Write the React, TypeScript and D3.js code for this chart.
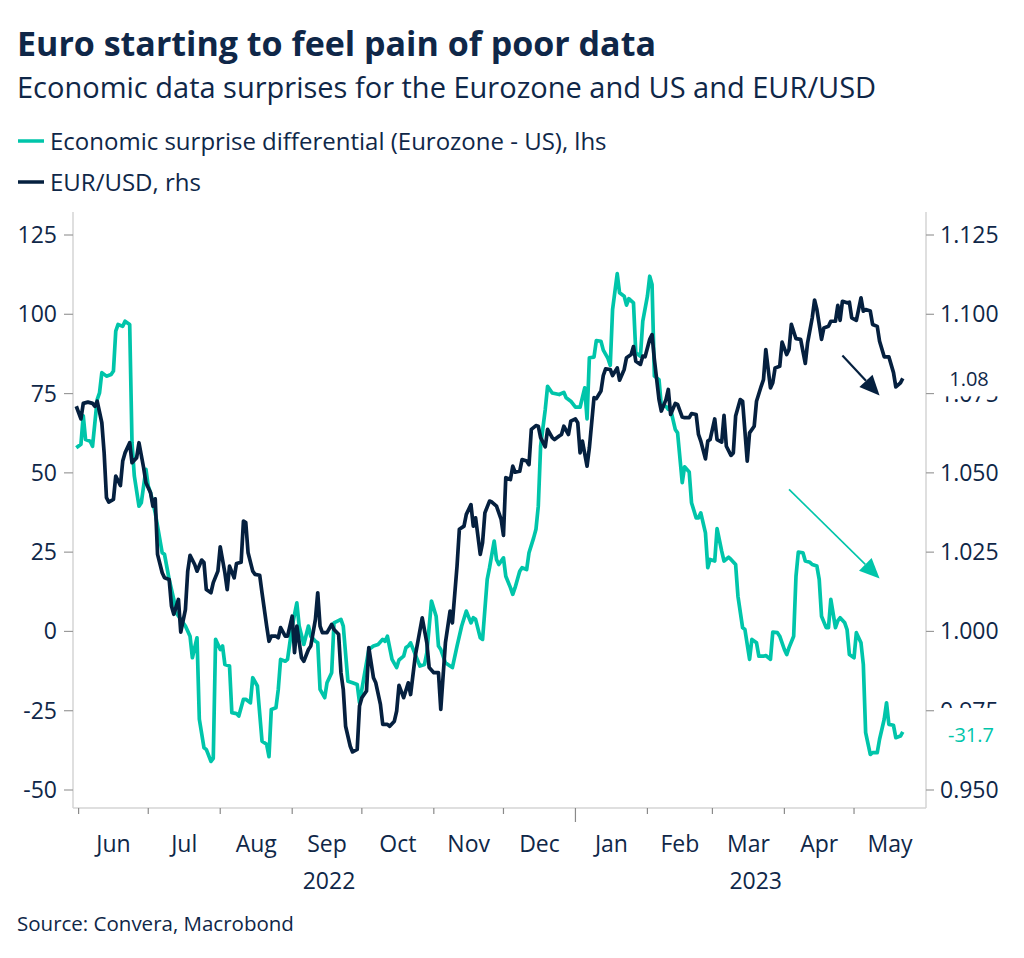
import React from "react";
import * as d3 from "d3";

const TEAL = "#00c5aa";
const NAVY = "#05203f";
const TEXT = "#0f2748";
const FONT = "'Open Sans', 'Noto Sans', sans-serif";

// Economic surprise differential (Eurozone - US), lhs
const surpriseSeries: [string, number][] = [
  ["2022-05-31", 57.9], ["2022-06-02", 59], ["2022-06-03", 68], ["2022-06-04", 60.5], ["2022-06-06", 60],
  ["2022-06-07", 58.4], ["2022-06-09", 73.1], ["2022-06-10", 75.2], ["2022-06-11", 81.6], ["2022-06-13", 80.5],
  ["2022-06-15", 81], ["2022-06-16", 82.1], ["2022-06-17", 94.7], ["2022-06-18", 96.8], ["2022-06-20", 96.2],
  ["2022-06-21", 97.8], ["2022-06-23", 96.8], ["2022-06-24", 59.5], ["2022-06-25", 49], ["2022-06-27", 39.5],
  ["2022-06-28", 40.6], ["2022-06-30", 51.1], ["2022-07-01", 45.8], ["2022-07-02", 43.7], ["2022-07-04", 37.4],
  ["2022-07-07", 24.8], ["2022-07-08", 24.3], ["2022-07-10", 16.4], ["2022-07-12", 10.1], ["2022-07-13", 5.9],
  ["2022-07-17", 1.7], ["2022-07-19", -1.5], ["2022-07-20", -8.3], ["2022-07-22", -2], ["2022-07-23", -27.7],
  ["2022-07-25", -36.7], ["2022-07-26", -37.2], ["2022-07-28", -41], ["2022-07-29", -40], ["2022-07-30", -2.5],
  ["2022-08-01", -5.7], ["2022-08-02", -4.6], ["2022-08-03", -10.4], ["2022-08-05", -10.9], ["2022-08-06", -25.6],
  ["2022-08-08", -25.9], ["2022-08-09", -26.7], ["2022-08-11", -21.4], ["2022-08-12", -21.4], ["2022-08-14", -22.5],
  ["2022-08-15", -14.6], ["2022-08-17", -17.2], ["2022-08-19", -34.6], ["2022-08-21", -35.6], ["2022-08-22", -39.5],
  ["2022-08-23", -24.6], ["2022-08-25", -24.1], ["2022-08-26", -18.3], ["2022-08-27", -8.8], ["2022-08-29", -9.4],
  ["2022-08-30", -8.8], ["2022-09-01", 1.7], ["2022-09-03", 9.0], ["2022-09-04", 1.7], ["2022-09-06", -4.1],
  ["2022-09-08", 1.7], ["2022-09-09", -1.5], ["2022-09-11", -3.1], ["2022-09-12", -3.6], ["2022-09-13", -18.3],
  ["2022-09-15", -20.9], ["2022-09-16", -16.2], ["2022-09-18", -13], ["2022-09-19", 2.7], ["2022-09-22", 3.8],
  ["2022-09-23", 1.7], ["2022-09-25", -15.7], ["2022-09-27", -16.2], ["2022-09-29", -16.7], ["2022-09-30", -22.5],
  ["2022-10-02", -14.1], ["2022-10-04", -5.7], ["2022-10-06", -4.6], ["2022-10-08", -4.1], ["2022-10-10", -2.5],
  ["2022-10-11", -3.1], ["2022-10-12", -1.5], ["2022-10-14", -8.8], ["2022-10-16", -11.4], ["2022-10-17", -9],
  ["2022-10-19", -7.8], ["2022-10-20", -5.1], ["2022-10-21", -4.6], ["2022-10-22", -3.6], ["2022-10-26", -10.9],
  ["2022-10-28", -10.4], ["2022-10-29", -6.7], ["2022-10-31", 9.6], ["2022-11-02", 4.8], ["2022-11-03", -4.6],
  ["2022-11-04", -5.7], ["2022-11-06", -9.9], ["2022-11-08", -10.9], ["2022-11-09", -11.4], ["2022-11-11", -4.6],
  ["2022-11-13", 1.7], ["2022-11-15", 6.4], ["2022-11-17", 2.7], ["2022-11-18", 4.3], ["2022-11-19", 3.8],
  ["2022-11-21", -2], ["2022-11-22", -2.5], ["2022-11-24", 16.4], ["2022-11-25", 20.1], ["2022-11-27", 28.5],
  ["2022-11-28", 22.7], ["2022-11-29", 21.1], ["2022-12-01", 23.2], ["2022-12-02", 17.4], ["2022-12-04", 13.8],
  ["2022-12-05", 11.7], ["2022-12-06", 13.8], ["2022-12-08", 19], ["2022-12-09", 20.1], ["2022-12-11", 19.5],
  ["2022-12-12", 24.8], ["2022-12-14", 29.5], ["2022-12-15", 32.2], ["2022-12-16", 39.5], ["2022-12-17", 58.4],
  ["2022-12-19", 70], ["2022-12-20", 77.3], ["2022-12-22", 75.2], ["2022-12-25", 74.7], ["2022-12-27", 75.4],
  ["2022-12-28", 73.7], ["2022-12-30", 72.6], ["2023-01-01", 70.7], ["2023-01-03", 70.7], ["2023-01-05", 76.8],
  ["2023-01-06", 67], ["2023-01-07", 86.3], ["2023-01-09", 86.5], ["2023-01-10", 91.7], ["2023-01-12", 91.5],
  ["2023-01-13", 88.7], ["2023-01-15", 86.1], ["2023-01-16", 83.9], ["2023-01-17", 101.5], ["2023-01-19", 112.8],
  ["2023-01-20", 106.8], ["2023-01-22", 105.7], ["2023-01-23", 102.9], ["2023-01-24", 104.9], ["2023-01-26", 103.6],
  ["2023-01-27", 87.9], ["2023-01-29", 86.8], ["2023-01-30", 97.8], ["2023-02-01", 105.7], ["2023-02-02", 112],
  ["2023-02-03", 109.4], ["2023-02-04", 80.5], ["2023-02-06", 79.4], ["2023-02-07", 71], ["2023-02-09", 71],
  ["2023-02-10", 70], ["2023-02-11", 70], ["2023-02-13", 63.7], ["2023-02-14", 62.6], ["2023-02-16", 46.9],
  ["2023-02-17", 51.9], ["2023-02-19", 50.3], ["2023-02-20", 40.6], ["2023-02-22", 35.8], ["2023-02-23", 35.8],
  ["2023-02-24", 37.4], ["2023-02-26", 31.1], ["2023-02-27", 20.1], ["2023-02-28", 22.7], ["2023-03-02", 22.2],
  ["2023-03-03", 32.4], ["2023-03-05", 25.3], ["2023-03-06", 22.2], ["2023-03-08", 23.4], ["2023-03-09", 22.7],
  ["2023-03-11", 21.1], ["2023-03-12", 11.1], ["2023-03-14", 1.2], ["2023-03-15", 0.6], ["2023-03-17", -8.8],
  ["2023-03-18", -2.5], ["2023-03-20", -3.6], ["2023-03-21", -7.8], ["2023-03-23", -7.8], ["2023-03-24", -7.6],
  ["2023-03-26", -8.8], ["2023-03-27", -0.2], ["2023-03-29", -0.4], ["2023-03-30", -1.5], ["2023-04-01", -5.7],
  ["2023-04-02", -7.3], ["2023-04-03", -5.1], ["2023-04-05", -1.5], ["2023-04-06", 17.4], ["2023-04-07", 25],
  ["2023-04-09", 24.8], ["2023-04-10", 22.2], ["2023-04-12", 21.8], ["2023-04-13", 21.1], ["2023-04-15", 20.6],
  ["2023-04-16", 16.4], ["2023-04-17", 4.8], ["2023-04-19", 1.2], ["2023-04-20", 1.2], ["2023-04-21", 10.1],
  ["2023-04-23", 1.2], ["2023-04-24", 3.3], ["2023-04-25", 4.3], ["2023-04-27", 2.7], ["2023-04-28", 0.6],
  ["2023-04-29", -7.3], ["2023-05-01", -8.3], ["2023-05-02", -0.4], ["2023-05-04", -3.6], ["2023-05-05", -10.4],
  ["2023-05-06", -31.9], ["2023-05-08", -38.8], ["2023-05-09", -38.2], ["2023-05-11", -38.2], ["2023-05-12", -34],
  ["2023-05-14", -27.7], ["2023-05-15", -22.5], ["2023-05-16", -29.3], ["2023-05-18", -29.6], ["2023-05-19", -33.5],
  ["2023-05-21", -33], ["2023-05-22", -31.7],
];

// EUR/USD, rhs
const eurusdSeries: [string, number][] = [
  ["2022-05-31", 1.071], ["2022-06-02", 1.067], ["2022-06-03", 1.0719], ["2022-06-05", 1.0723], ["2022-06-07", 1.0719],
  ["2022-06-08", 1.071], ["2022-06-09", 1.0726], ["2022-06-11", 1.0658], ["2022-06-12", 1.0563], ["2022-06-13", 1.0422],
  ["2022-06-14", 1.0408], ["2022-06-16", 1.0416], ["2022-06-17", 1.049], ["2022-06-19", 1.046], ["2022-06-20", 1.0537],
  ["2022-06-21", 1.0563], ["2022-06-23", 1.0595], ["2022-06-24", 1.0532], ["2022-06-26", 1.0548], ["2022-06-27", 1.0595],
  ["2022-06-29", 1.0516], ["2022-06-30", 1.0469], ["2022-07-02", 1.0437], ["2022-07-03", 1.0395], ["2022-07-04", 1.0418],
  ["2022-07-05", 1.0243], ["2022-07-07", 1.0185], ["2022-07-08", 1.0169], ["2022-07-10", 1.0164], ["2022-07-11", 1.008],
  ["2022-07-12", 1.0054], ["2022-07-14", 1.0101], ["2022-07-15", 0.9998], ["2022-07-17", 1.0069], ["2022-07-18", 1.019],
  ["2022-07-19", 1.024], ["2022-07-21", 1.0211], ["2022-07-22", 1.019], ["2022-07-24", 1.0225], ["2022-07-25", 1.0217],
  ["2022-07-26", 1.0132], ["2022-07-28", 1.0122], ["2022-07-29", 1.0154], ["2022-07-31", 1.019], ["2022-08-01", 1.0267],
  ["2022-08-03", 1.0185], ["2022-08-04", 1.0132], ["2022-08-05", 1.0206], ["2022-08-07", 1.0169], ["2022-08-08", 1.0214],
  ["2022-08-10", 1.0218], ["2022-08-11", 1.0348], ["2022-08-12", 1.0343], ["2022-08-13", 1.0248], ["2022-08-15", 1.019],
  ["2022-08-16", 1.018], ["2022-08-18", 1.0177], ["2022-08-19", 1.0122], ["2022-08-21", 1.0017], ["2022-08-22", 0.9969],
  ["2022-08-23", 0.9985], ["2022-08-25", 0.9985], ["2022-08-26", 0.998], ["2022-08-27", 1.0012], ["2022-08-29", 0.9985],
  ["2022-08-30", 0.9985], ["2022-09-01", 1.0048], ["2022-09-02", 0.9933], ["2022-09-03", 1.0017], ["2022-09-05", 0.9917],
  ["2022-09-06", 0.9906], ["2022-09-08", 0.9943], ["2022-09-09", 0.9954], ["2022-09-11", 1.0038], ["2022-09-12", 1.0122],
  ["2022-09-13", 1.0017], ["2022-09-14", 0.9996], ["2022-09-16", 0.9996], ["2022-09-18", 1.0022], ["2022-09-19", 1.0006],
  ["2022-09-21", 0.9991], ["2022-09-22", 0.987], ["2022-09-23", 0.9817], ["2022-09-24", 0.9701], ["2022-09-26", 0.9638],
  ["2022-09-27", 0.962], ["2022-09-29", 0.9628], ["2022-09-30", 0.9765], ["2022-10-01", 0.9791], ["2022-10-03", 0.9812],
  ["2022-10-04", 0.9949], ["2022-10-06", 0.9854], ["2022-10-07", 0.9838], ["2022-10-09", 0.977], ["2022-10-10", 0.9707],
  ["2022-10-12", 0.9707], ["2022-10-13", 0.9701], ["2022-10-15", 0.9717], ["2022-10-16", 0.9749], ["2022-10-17", 0.983],
  ["2022-10-19", 0.9791], ["2022-10-21", 0.9838], ["2022-10-22", 0.9801], ["2022-10-24", 0.9922], ["2022-10-27", 1.0043],
  ["2022-10-29", 0.9964], ["2022-10-30", 0.9886], ["2022-11-01", 0.987], ["2022-11-03", 0.987], ["2022-11-04", 0.9754],
  ["2022-11-06", 0.9964], ["2022-11-08", 1.0064], ["2022-11-09", 1.0027], ["2022-11-11", 1.0206], ["2022-11-12", 1.0322],
  ["2022-11-14", 1.0332], ["2022-11-15", 1.0369], ["2022-11-17", 1.04], ["2022-11-18", 1.0332], ["2022-11-19", 1.0358],
  ["2022-11-21", 1.0243], ["2022-11-22", 1.028], ["2022-11-23", 1.0374], ["2022-11-25", 1.0411], ["2022-11-26", 1.0408],
  ["2022-11-28", 1.0395], ["2022-11-30", 1.0353], ["2022-12-01", 1.0303], ["2022-12-02", 1.0485], ["2022-12-04", 1.0479],
  ["2022-12-05", 1.0521], ["2022-12-06", 1.0502], ["2022-12-08", 1.0505], ["2022-12-09", 1.0542], ["2022-12-11", 1.0537],
  ["2022-12-12", 1.0526], ["2022-12-13", 1.0637], ["2022-12-15", 1.0649], ["2022-12-16", 1.0647], ["2022-12-17", 1.0611],
  ["2022-12-19", 1.0582], ["2022-12-20", 1.0637], ["2022-12-22", 1.0611], ["2022-12-23", 1.0605], ["2022-12-25", 1.0616],
  ["2022-12-26", 1.0621], ["2022-12-27", 1.0647], ["2022-12-29", 1.0621], ["2022-12-30", 1.0663], ["2023-01-01", 1.067],
  ["2023-01-02", 1.0658], ["2023-01-03", 1.0563], ["2023-01-04", 1.06], ["2023-01-06", 1.0521], ["2023-01-07", 1.0579],
  ["2023-01-09", 1.0737], ["2023-01-10", 1.0734], ["2023-01-12", 1.0758], ["2023-01-13", 1.0807], ["2023-01-14", 1.0828],
  ["2023-01-16", 1.0826], ["2023-01-17", 1.0807], ["2023-01-19", 1.0831], ["2023-01-20", 1.0792], ["2023-01-22", 1.0826],
  ["2023-01-23", 1.0863], ["2023-01-25", 1.0873], ["2023-01-26", 1.0898], ["2023-01-27", 1.0852], ["2023-01-29", 1.0842],
  ["2023-01-30", 1.0868], ["2023-01-31", 1.0866], ["2023-02-02", 1.0921], ["2023-02-03", 1.0936], ["2023-02-04", 1.0858],
  ["2023-02-06", 1.0731], ["2023-02-07", 1.0695], ["2023-02-09", 1.0731], ["2023-02-10", 1.0763], ["2023-02-11", 1.0684],
  ["2023-02-13", 1.0719], ["2023-02-14", 1.0716], ["2023-02-16", 1.0676], ["2023-02-17", 1.0674], ["2023-02-19", 1.0674],
  ["2023-02-20", 1.0687], ["2023-02-22", 1.0684], ["2023-02-23", 1.0621], ["2023-02-24", 1.06], ["2023-02-26", 1.0544],
  ["2023-02-27", 1.06], ["2023-02-28", 1.0605], ["2023-03-02", 1.067], ["2023-03-03", 1.0605], ["2023-03-05", 1.0597],
  ["2023-03-06", 1.0681], ["2023-03-07", 1.0584], ["2023-03-09", 1.0555], ["2023-03-10", 1.0563], ["2023-03-11", 1.0679],
  ["2023-03-13", 1.0731], ["2023-03-14", 1.0726], ["2023-03-16", 1.0537], ["2023-03-17", 1.0626], ["2023-03-19", 1.0647],
  ["2023-03-20", 1.0726], ["2023-03-22", 1.0773], ["2023-03-23", 1.0794], ["2023-03-24", 1.0889], ["2023-03-26", 1.0768],
  ["2023-03-27", 1.0784], ["2023-03-28", 1.0831], ["2023-03-30", 1.0836], ["2023-03-31", 1.0912], ["2023-04-02", 1.0873],
  ["2023-04-03", 1.0889], ["2023-04-04", 1.0968], ["2023-04-06", 1.0923], ["2023-04-08", 1.0921], ["2023-04-10", 1.0845],
  ["2023-04-11", 1.091], ["2023-04-13", 1.0989], ["2023-04-14", 1.1045], ["2023-04-15", 1.1015], ["2023-04-17", 1.0921],
  ["2023-04-18", 1.0957], ["2023-04-20", 1.0962], ["2023-04-21", 1.0978], ["2023-04-23", 1.0978], ["2023-04-24", 1.1028],
  ["2023-04-25", 1.0981], ["2023-04-26", 1.1041], ["2023-04-28", 1.1036], ["2023-04-29", 1.1038], ["2023-04-30", 1.0989],
  ["2023-05-02", 1.0981], ["2023-05-04", 1.1052], ["2023-05-05", 1.101], ["2023-05-06", 1.1015], ["2023-05-08", 1.101],
  ["2023-05-09", 1.0968], ["2023-05-11", 1.0962], ["2023-05-12", 1.0915], ["2023-05-14", 1.0866], ["2023-05-16", 1.0866],
  ["2023-05-18", 1.0816], ["2023-05-19", 1.0771], ["2023-05-21", 1.0784], ["2023-05-22", 1.0798],
];

const leftTicks = [-50, -25, 0, 25, 50, 75, 100, 125];
const rightTicks = [0.95, 0.975, 1.0, 1.025, 1.05, 1.075, 1.1, 1.125];
const monthLabels = ["Jun", "Jul", "Aug", "Sep", "Oct", "Nov", "Dec", "Jan", "Feb", "Mar", "Apr", "May"];
const yearLabels = ["2022", "2023"];

// annotation arrows: [startDate, startValue, endDate, endValue]
const eurusdArrow: [string, number, string, number] = ["2023-04-26", 1.087, "2023-05-12", 1.0744];
const surpriseArrow: [string, number, string, number] = ["2023-04-03", 44.8, "2023-05-12", 16.7];

const title = "Euro starting to feel pain of poor data";
const subtitle = "Economic data surprises for the Eurozone and US and EUR/USD";
const legendItems = [
  { label: "Economic surprise differential (Eurozone - US), lhs", color: TEAL },
  { label: "EUR/USD, rhs", color: NAVY },
];
const source = "Source: Convera, Macrobond";

const parse = d3.timeParse("%Y-%m-%d");

function Arrow({ x1, y1, x2, y2, color, width, headLen, headHalf }: any) {
  const ang = Math.atan2(y2 - y1, x2 - x1);
  const bx = x2 - headLen * Math.cos(ang);
  const by = y2 - headLen * Math.sin(ang);
  const px = -Math.sin(ang) * headHalf;
  const py = Math.cos(ang) * headHalf;
  const pts = `${x2},${y2} ${bx + px},${by + py} ${bx - px},${by - py}`;
  return (
    <g>
      <line x1={x1} y1={y1} x2={bx} y2={by} stroke={color} strokeWidth={width} />
      <polygon points={pts} fill={color} />
    </g>
  );
}

export default function App() {
  const W = 1024;
  const H = 958;
  const left = 73;
  const right = 926;
  const top = 212;
  const bottom = 808;

  const x = d3
    .scaleTime()
    .domain([new Date(2022, 4, 29, 14), new Date(2023, 5, 1)])
    .range([left, right]);
  const yL = d3.scaleLinear().domain([-50, 125]).range([790, 235]);
  const yR = d3.scaleLinear().domain([0.95, 1.125]).range([790, 235]);

  const surprise = surpriseSeries.map(([d, v]) => ({ date: parse(d) as Date, v }));
  const eurusd = eurusdSeries.map(([d, v]) => ({ date: parse(d) as Date, v }));

  const lineL = d3
    .line<{ date: Date; v: number }>()
    .x((d) => x(d.date))
    .y((d) => yL(d.v));
  const lineR = d3
    .line<{ date: Date; v: number }>()
    .x((d) => x(d.date))
    .y((d) => yR(d.v));

  const months = d3.timeMonth.range(new Date(2022, 5, 1), new Date(2023, 6, 1));
  const tickMonths = months.slice(0, 12);

  const lastS = surprise[surprise.length - 1];
  const lastE = eurusd[eurusd.length - 1];

  const janX = x(new Date(2023, 0, 1));
  const y2022 = (x(new Date(2022, 5, 1)) + janX) / 2 + 2;
  const y2023 = (janX + x(new Date(2023, 5, 1))) / 2 + 5;

  const ea = eurusdArrow;
  const sa = surpriseArrow;

  const tickFs = 23;

  return (
    <svg
      width={W}
      height={H}
      viewBox={`0 0 ${W} ${H}`}
      style={{ position: "absolute", left: 0, top: 0, background: "#fff" }}
      fontFamily={FONT}
    >
      <rect x={0} y={0} width={W} height={H} fill="#fff" />
      <text x={17} y={56} fontSize={34} fontWeight={700} fill={TEXT}>
        {title}
      </text>
      <text x={17} y={98} fontSize={29} fill={TEXT}>
        {subtitle}
      </text>
      {legendItems.map((it, i) => (
        <g key={it.label}>
          <line x1={18} x2={44} y1={141 + i * 41} y2={141 + i * 41} stroke={it.color} strokeWidth={3.5} />
          <text x={50} y={150 + i * 41} fontSize={24} fill={TEXT}>
            {it.label}
          </text>
        </g>
      ))}

      {/* frame */}
      <line x1={left} x2={left} y1={top} y2={bottom} stroke="#d4d4d4" strokeWidth={1.5} />
      <line x1={right} x2={right} y1={top} y2={bottom} stroke="#d4d4d4" strokeWidth={1.5} />
      <line x1={left} x2={right} y1={bottom} y2={bottom} stroke="#d4d4d4" strokeWidth={1.5} />

      {/* left axis */}
      {leftTicks.map((t) => (
        <g key={"l" + t}>
          <line x1={64} x2={left} y1={yL(t)} y2={yL(t)} stroke="#9a9a9a" strokeWidth={1.2} />
          <text x={57} y={yL(t) + 8} fontSize={tickFs} textAnchor="end" fill={TEXT}>
            {String(t)}
          </text>
        </g>
      ))}
      {/* right axis */}
      {rightTicks.map((t) => (
        <g key={"r" + t}>
          <line x1={right} x2={934} y1={yR(t)} y2={yR(t)} stroke="#9a9a9a" strokeWidth={1.2} />
          <text x={940} y={yR(t) + 8} fontSize={tickFs} textAnchor="start" fill={TEXT}>
            {t.toFixed(3)}
          </text>
        </g>
      ))}

      {/* x axis */}
      {tickMonths.map((m, i) => {
        const isJan = m.getMonth() === 0;
        const cx = (x(m) + x(months[i + 1])) / 2;
        return (
          <g key={"m" + i}>
            <line x1={x(m)} x2={x(m)} y1={bottom} y2={isJan ? 822 : 814} stroke="#8a8a8a" strokeWidth={1.2} />
            <text x={cx} y={852} fontSize={tickFs} textAnchor="middle" fill={TEXT}>
              {monthLabels[i]}
            </text>
          </g>
        );
      })}
      <text x={y2022} y={889} fontSize={tickFs} textAnchor="middle" fill={TEXT}>
        {yearLabels[0]}
      </text>
      <text x={y2023} y={889} fontSize={tickFs} textAnchor="middle" fill={TEXT}>
        {yearLabels[1]}
      </text>

      {/* series */}
      <path d={lineL(surprise) || ""} fill="none" stroke={TEAL} strokeWidth={3.7} strokeLinejoin="round" />
      <path d={lineR(eurusd) || ""} fill="none" stroke={NAVY} strokeWidth={3.7} strokeLinejoin="round" />

      {/* arrows */}
      <Arrow
        x1={x(parse(ea[0]) as Date)}
        y1={yR(ea[1])}
        x2={x(parse(ea[2]) as Date)}
        y2={yR(ea[3])}
        color={NAVY}
        width={2.2}
        headLen={20}
        headHalf={9}
      />
      <Arrow
        x1={x(parse(sa[0]) as Date)}
        y1={yL(sa[1])}
        x2={x(parse(sa[2]) as Date)}
        y2={yL(sa[3])}
        color={TEAL}
        width={1.6}
        headLen={20}
        headHalf={9}
      />

      {/* last value labels */}
      <rect x={938} y={yR(lastE.v) - 20} width={62} height={38} fill="#fff" />
      <text x={969} y={yR(lastE.v) + 8} fontSize={20} textAnchor="middle" fill={TEXT}>
        {lastE.v.toFixed(2)}
      </text>
      <rect x={938} y={yL(lastS.v) - 24} width={66} height={46} fill="#fff" />
      <text x={971} y={yL(lastS.v) + 10} fontSize={20} textAnchor="middle" fill={TEAL}>
        {lastS.v.toFixed(1)}
      </text>

      <text x={17} y={931} fontSize={20.5} fill={TEXT}>
        {source}
      </text>
    </svg>
  );
}
